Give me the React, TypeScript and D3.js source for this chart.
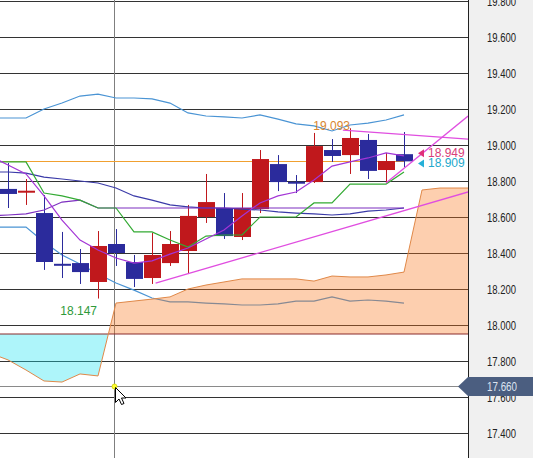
import React from 'react';
import * as d3 from 'd3';

// ---- candles (bar index 0..22) ----
const opens = [18.756, 18.739, 18.622, 18.336, 18.344, 18.239, 18.450, 18.350, 18.261, 18.344, 18.411, 18.600, 18.650, 18.489, 18.644, 18.894, 18.792, 18.794, 18.972, 18.944, 19.028, 18.861, 18.949];
const highs = [18.900, 18.811, 18.722, 18.517, 18.422, 18.522, 18.533, 18.389, 18.511, 18.522, 18.667, 18.839, 18.733, 18.733, 18.972, 18.944, 18.833, 19.067, 19.033, 19.093, 19.061, 18.956, 19.072];
const lows = [18.650, 18.667, 18.306, 18.261, 18.228, 18.147, 18.328, 18.211, 18.228, 18.328, 18.283, 18.567, 18.478, 18.472, 18.622, 18.744, 18.733, 18.789, 18.906, 18.839, 18.811, 18.789, 18.878];
const closes = [18.728, 18.742, 18.350, 18.333, 18.294, 18.439, 18.400, 18.256, 18.389, 18.450, 18.606, 18.683, 18.494, 18.650, 18.922, 18.794, 18.789, 18.994, 18.939, 19.039, 18.856, 18.911, 18.909];

// ---- indicator lines (bar index -1..22) ----
const bbUpper = [19.150, 19.150, 19.150, 19.200, 19.233, 19.272, 19.283, 19.261, 19.261, 19.256, 19.233, 19.178, 19.161, 19.156, 19.150, 19.167, 19.144, 19.117, 19.106, 19.078, 19.111, 19.122, 19.139, 19.167];
const bbMiddle = [18.850, 18.850, 18.844, 18.822, 18.811, 18.800, 18.789, 18.761, 18.717, 18.694, 18.667, 18.656, 18.650, 18.650, 18.644, 18.639, 18.628, 18.622, 18.617, 18.611, 18.617, 18.633, 18.639, 18.650];
const bbLower = [18.544, 18.544, 18.544, 18.461, 18.389, 18.339, 18.283, 18.233, 18.194, 18.150, 18.128, 18.128, 18.122, 18.117, 18.111, 18.111, 18.117, 18.133, 18.133, 18.156, 18.133, 18.139, 18.133, 18.122];
const tenkan = [18.906, 18.906, 18.906, 18.733, 18.717, 18.694, 18.650, 18.650, 18.517, 18.517, 18.472, 18.433, 18.494, 18.500, 18.500, 18.600, 18.600, 18.600, 18.678, 18.678, 18.783, 18.783, 18.783, 18.850];
const kijun = [18.606, 18.611, 18.617, 18.639, 18.683, 18.694, 18.650, 18.650, 18.650, 18.650, 18.650, 18.650, 18.650, 18.650, 18.650, 18.650, 18.650, 18.650, 18.650, 18.650, 18.650, 18.650, 18.650, 18.650];
const fastMA = [18.939, 18.889, 18.839, 18.717, 18.583, 18.472, 18.417, 18.372, 18.344, 18.356, 18.394, 18.428, 18.478, 18.528, 18.606, 18.678, 18.717, 18.739, 18.806, 18.883, 18.906, 18.928, 18.956, 18.940];

// ---- ichimoku cloud (bar index -1..26) ----
const spanA = [17.844, 17.806, 17.750, 17.689, 17.683, 17.728, 17.717, 18.122, 18.133, 18.144, 18.156, 18.200, 18.222, 18.239, 18.256, 18.256, 18.256, 18.256, 18.244, 18.272, 18.267, 18.267, 18.278, 18.294, 18.750, 18.761, 18.761, 18.761];
const spanB = [17.950, 17.950, 17.950, 17.950, 17.950, 17.950, 17.950, 17.950, 17.950, 17.950, 17.950, 17.950, 17.950, 17.950, 17.950, 17.950, 17.950, 17.950, 17.950, 17.950, 17.950, 17.950, 17.950, 17.950, 17.950, 17.950, 17.950, 17.950];

// ---- trend lines [startIndex, startValue, endIndex, endValue] ----
const trendLines = [
  [8.2, 18.233, 25.56, 18.739],
  [18.6, 19.083, 25.56, 19.033],
  [21.0, 18.789, 25.56, 19.161],
];

const yTicks = [17.4, 17.6, 17.8, 18.0, 18.2, 18.4, 18.6, 18.8, 19.0, 19.2, 19.4, 19.6, 19.8];
const lastPrice = 18.909;
const maLast = 18.949;
const highLabel = 19.093;
const lowLabel = 18.147;
const crossPrice = 17.66;
const crossIndex = 6;

const W = 533;
const H = 458;
const PR = 468;

export default function App() {
  const x = d3.scaleLinear().domain([0, 22]).range([8, 404]);
  const y = d3.scaleLinear().domain([17.4, 19.8]).range([433, 1]);
  const fmt = d3.format('.3f');

  const lineGen = d3.line<number>().x((_, i) => x(i - 1)).y((d) => y(d));
  const area = d3.area<number>().x((_, i) => x(i - 1)).y0((_, i) => y(spanB[i])).y1((d) => y(d));
  const yB = y(spanB[0]);

  const font = "'Liberation Sans', Arial, sans-serif";
  const crossX = x(crossIndex) - 1.5;
  const crossY = Math.round(y(crossPrice)) + 0.5;

  return (
    <svg width={W} height={H} style={{ position: 'fixed', left: 0, top: 0, background: '#fff' }}>
      <defs>
        <clipPath id="plot"><rect x={0} y={0} width={PR} height={H} /></clipPath>
        <clipPath id="above"><rect x={0} y={0} width={PR} height={yB} /></clipPath>
        <clipPath id="below"><rect x={0} y={yB} width={PR} height={H - yB} /></clipPath>
      </defs>
      <rect x={0} y={0} width={PR} height={H} fill="#fff" />
      <rect x={PR} y={0} width={W - PR} height={H} fill="#f0f0f0" />

      <g clipPath="url(#plot)">
        {/* grid */}
        {yTicks.map((t) => (
          <line key={t} x1={0} x2={PR} y1={Math.round(y(t)) + 0.5} y2={Math.round(y(t)) + 0.5} stroke="#333" strokeWidth={1} />
        ))}
        {/* crosshair */}
        <line x1={crossX} x2={crossX} y1={0} y2={H} stroke="#7f7f7f" strokeWidth={1} />
        <line x1={0} x2={PR} y1={crossY} y2={crossY} stroke="#8a8a8a" strokeWidth={1} />

        {/* bollinger */}
        <path d={lineGen(bbUpper) || ''} fill="none" stroke="#4a94d4" strokeWidth={1.2} />
        <path d={lineGen(bbLower) || ''} fill="none" stroke="#4a94d4" strokeWidth={1.2} />

        {/* cloud */}
        <g clipPath="url(#above)">
          <path d={area(spanA) || ''} fill="#f9761a" fillOpacity={0.35} />
        </g>
        <g clipPath="url(#below)">
          <path d={area(spanA) || ''} fill="#18e2f1" fillOpacity={0.35} />
        </g>
        <path d={d3.line<number>().x((_, i) => x(i - 1)).y((d) => y(d))(spanB) || ''} fill="none" stroke="#8a2a2a" strokeWidth={1} />
        <path d={lineGen(spanA) || ''} fill="none" stroke="#e08848" strokeWidth={1} />

        {/* current price line */}
        <line x1={0} x2={x(22)} y1={Math.round(y(lastPrice)) + 0.5} y2={Math.round(y(lastPrice)) + 0.5} stroke="#f0a030" strokeWidth={1} />

        {/* candles */}
        {opens.map((o, i) => {
          const c = closes[i];
          const up = c >= o;
          const col = up ? '#c0181c' : '#2b2b9c';
          const cx = x(i);
          const top = y(Math.max(o, c));
          const bot = y(Math.min(o, c));
          const h = Math.max(2, bot - top);
          return (
            <g key={i}>
              <line x1={cx + 0.5} x2={cx + 0.5} y1={y(highs[i])} y2={y(lows[i])} stroke={col} strokeWidth={1} />
              <rect x={cx - 8} y={h === 2 ? (top + bot) / 2 - 1 : top} width={17} height={h} fill={col} />
            </g>
          );
        })}

        {/* lines over candles */}
        <path d={lineGen(bbMiddle) || ''} fill="none" stroke="#3a3aa8" strokeWidth={1.2} />
        <path d={lineGen(kijun) || ''} fill="none" stroke="#7d2fc0" strokeWidth={1.2} />
        <path d={lineGen(tenkan) || ''} fill="none" stroke="#33aa33" strokeWidth={1.2} />
        <path d={lineGen(fastMA) || ''} fill="none" stroke="#a335d6" strokeWidth={1.2} />

        {trendLines.map((t, i) => (
          <line key={i} x1={x(t[0])} y1={y(t[1])} x2={x(t[2])} y2={y(t[3])} stroke="#e04ee0" strokeWidth={1.3} />
        ))}

        {/* high / low labels */}
        <text x={x(19)} y={y(highLabel) + 2} textAnchor="end" fontFamily={font} fontSize={12} fill="#d8862f">{fmt(highLabel)}</text>
        <text x={x(5) - 1} y={y(lowLabel) + 16} textAnchor="end" fontFamily={font} fontSize={12} fill="#2e9a3a">{fmt(lowLabel)}</text>

        {/* right-side value tags */}
        <path d={`M${x(22) + 14},${y(maLast) - 1} l6,-4 l0,8 z`} fill="#e0307a" />
        <text x={x(22) + 24} y={y(maLast) + 3} fontFamily={font} fontSize={12} fill="#d8407a">{fmt(maLast)}</text>
        <path d={`M${x(22) + 14},${y(lastPrice) + 2} l6,-4 l0,8 z`} fill="#25b0d8" />
        <text x={x(22) + 24} y={y(lastPrice) + 6} fontFamily={font} fontSize={12} fill="#22a8cc">{fmt(lastPrice)}</text>

        {/* cursor */}
        <circle cx={crossX} cy={crossY} r={2.5} fill="#ffff30" stroke="#d0d000" strokeWidth={0.8} />
        <path d="M0 0 L0 15 L3.5 11.5 L6 17 L8.5 16 L6 10.5 L10.5 10.5 Z" transform={`translate(${crossX + 1},${crossY + 1})`} fill="#fff" stroke="#000" strokeWidth={1} />
      </g>

      {/* axis border */}
      <line x1={PR + 0.5} x2={PR + 0.5} y1={0} y2={H} stroke="#222" strokeWidth={1} />

      {/* axis labels */}
      {yTicks.map((t) => (
        <text key={t} x={487} y={y(t) + 4.5} fontFamily={font} fontSize={13} textLength={29} lengthAdjust="spacingAndGlyphs" fill="#222">{fmt(t)}</text>
      ))}

      {/* current crosshair price tag */}
      <path d={`M${PR - 10},${crossY} L${PR},${crossY - 9.5} L${W},${crossY - 9.5} L${W},${crossY + 9.5} L${PR},${crossY + 9.5} Z`} fill="#4b5e80" />
      <text x={487} y={crossY + 4.5} fontFamily={font} fontSize={13} textLength={30} lengthAdjust="spacingAndGlyphs" fill="#dde4f0">{fmt(crossPrice)}</text>
    </svg>
  );
}
